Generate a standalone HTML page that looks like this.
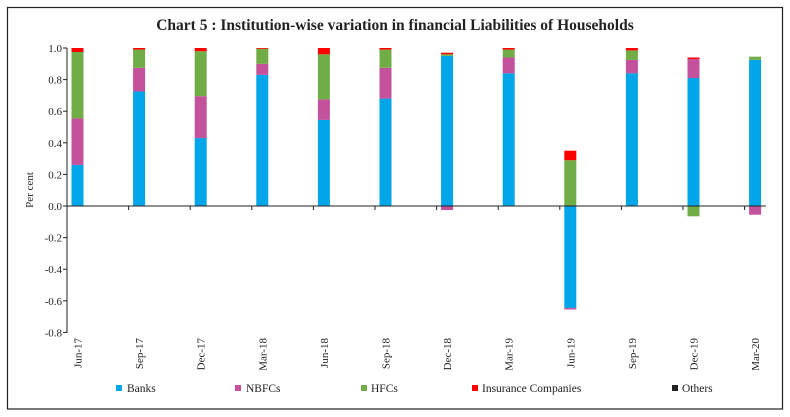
<!DOCTYPE html>
<html><head><meta charset="utf-8"><style>
body{margin:0;background:#fff}
svg{display:block;font-family:"Liberation Serif",serif}
</style></head><body>
<svg width="790" height="417" viewBox="0 0 790 417" xmlns="http://www.w3.org/2000/svg">
<rect x="7.5" y="7.5" width="775" height="401.5" fill="#fff" stroke="#222" stroke-width="1.2"/>
<text x="395" y="30" text-anchor="middle" font-size="15.5" font-weight="bold" fill="#222">Chart 5 : Institution-wise variation in financial Liabilities of Households</text>
<g font-size="11" fill="#222" text-anchor="end">
<text x="62" y="52">1.0</text><text x="62" y="83.6">0.8</text><text x="62" y="115.2">0.6</text><text x="62" y="146.8">0.4</text><text x="62" y="178.4">0.2</text><text x="62" y="210">0.0</text><text x="62" y="241.6">-0.2</text><text x="62" y="273.2">-0.4</text><text x="62" y="304.8">-0.6</text><text x="62" y="336.4">-0.8</text>
</g>
<text transform="translate(33,190) rotate(-90)" font-size="11" text-anchor="middle" fill="#222">Per cent</text>
<g stroke="#222" stroke-width="1">
<line x1="67" y1="48" x2="67" y2="333"/>
<line x1="63" y1="48" x2="67" y2="48"/><line x1="63" y1="79.6" x2="67" y2="79.6"/><line x1="63" y1="111.2" x2="67" y2="111.2"/><line x1="63" y1="142.8" x2="67" y2="142.8"/><line x1="63" y1="174.4" x2="67" y2="174.4"/><line x1="63" y1="206" x2="67" y2="206"/><line x1="63" y1="237.6" x2="67" y2="237.6"/><line x1="63" y1="269.2" x2="67" y2="269.2"/><line x1="63" y1="300.8" x2="67" y2="300.8"/><line x1="63" y1="332.4" x2="67" y2="332.4"/>
</g>
<g>
<rect x="71.5" y="164.9" width="12" height="41.1" fill="#00a6e8"/><rect x="71.5" y="118.3" width="12" height="46.6" fill="#c4519b"/><rect x="71.5" y="52" width="12" height="66.4" fill="#70ad47"/><rect x="71.5" y="48" width="12" height="4" fill="#f00"/>
<rect x="133.1" y="91.5" width="12" height="114.5" fill="#00a6e8"/><rect x="133.1" y="67.8" width="12" height="23.7" fill="#c4519b"/><rect x="133.1" y="49.6" width="12" height="18.2" fill="#70ad47"/><rect x="133.1" y="48" width="12" height="1.6" fill="#f00"/>
<rect x="194.7" y="138.1" width="12" height="67.9" fill="#00a6e8"/><rect x="194.7" y="96.2" width="12" height="41.9" fill="#c4519b"/><rect x="194.7" y="51.2" width="12" height="45" fill="#70ad47"/><rect x="194.7" y="48" width="12" height="3.2" fill="#f00"/>
<rect x="256.3" y="74.9" width="12" height="131.1" fill="#00a6e8"/><rect x="256.3" y="63.8" width="12" height="11.1" fill="#c4519b"/><rect x="256.3" y="48.8" width="12" height="15" fill="#70ad47"/><rect x="256.3" y="48" width="12" height="0.8" fill="#f00"/>
<rect x="317.9" y="119.9" width="12" height="86.1" fill="#00a6e8"/><rect x="317.9" y="99.4" width="12" height="20.5" fill="#c4519b"/><rect x="317.9" y="54.3" width="12" height="45.1" fill="#70ad47"/><rect x="317.9" y="48" width="12" height="6.3" fill="#f00"/>
<rect x="379.5" y="98.6" width="12" height="107.4" fill="#00a6e8"/><rect x="379.5" y="67.8" width="12" height="30.8" fill="#c4519b"/><rect x="379.5" y="49.6" width="12" height="18.2" fill="#70ad47"/><rect x="379.5" y="48" width="12" height="1.6" fill="#f00"/>
<rect x="441.1" y="55.9" width="12" height="150.1" fill="#00a6e8"/><rect x="441.1" y="54.3" width="12" height="1.6" fill="#70ad47"/><rect x="441.1" y="52.7" width="12" height="1.6" fill="#f00"/><rect x="441.1" y="206" width="12" height="4" fill="#c4519b"/>
<rect x="502.7" y="73.3" width="12" height="132.7" fill="#00a6e8"/><rect x="502.7" y="57.5" width="12" height="15.8" fill="#c4519b"/><rect x="502.7" y="49.6" width="12" height="7.9" fill="#70ad47"/><rect x="502.7" y="48" width="12" height="1.6" fill="#f00"/>
<rect x="564.3" y="206" width="12" height="101.9" fill="#00a6e8"/><rect x="564.3" y="307.9" width="12" height="1.6" fill="#c4519b"/><rect x="564.3" y="160.2" width="12" height="45.8" fill="#70ad47"/><rect x="564.3" y="150.7" width="12" height="9.5" fill="#f00"/>
<rect x="625.9" y="73.3" width="12" height="132.7" fill="#00a6e8"/><rect x="625.9" y="59.9" width="12" height="13.4" fill="#c4519b"/><rect x="625.9" y="50.4" width="12" height="9.5" fill="#70ad47"/><rect x="625.9" y="48" width="12" height="2.4" fill="#f00"/>
<rect x="687.5" y="78" width="12" height="128" fill="#00a6e8"/><rect x="687.5" y="59.1" width="12" height="19" fill="#c4519b"/><rect x="687.5" y="57.5" width="12" height="1.6" fill="#f00"/><rect x="687.5" y="206" width="12" height="10.3" fill="#70ad47"/>
<rect x="749.1" y="59.9" width="12" height="146.1" fill="#00a6e8"/><rect x="749.1" y="56.7" width="12" height="3.2" fill="#70ad47"/><rect x="749.1" y="206" width="12" height="8.7" fill="#c4519b"/>
</g>
<g stroke="#222" stroke-width="1">
<line x1="67" y1="206" x2="766" y2="206"/>
<line x1="67" y1="206" x2="67" y2="210"/><line x1="128.6" y1="206" x2="128.6" y2="210"/><line x1="190.2" y1="206" x2="190.2" y2="210"/><line x1="251.8" y1="206" x2="251.8" y2="210"/><line x1="313.4" y1="206" x2="313.4" y2="210"/><line x1="375" y1="206" x2="375" y2="210"/><line x1="436.6" y1="206" x2="436.6" y2="210"/><line x1="498.2" y1="206" x2="498.2" y2="210"/><line x1="559.8" y1="206" x2="559.8" y2="210"/><line x1="621.4" y1="206" x2="621.4" y2="210"/><line x1="683" y1="206" x2="683" y2="210"/><line x1="744.6" y1="206" x2="744.6" y2="210"/>
</g>
<g font-size="11" fill="#222" text-anchor="end">
<text transform="translate(81.5,338) rotate(-90)">Jun-17</text>
<text transform="translate(143.1,338) rotate(-90)">Sep-17</text>
<text transform="translate(204.7,338) rotate(-90)">Dec-17</text>
<text transform="translate(266.3,338) rotate(-90)">Mar-18</text>
<text transform="translate(327.9,338) rotate(-90)">Jun-18</text>
<text transform="translate(389.5,338) rotate(-90)">Sep-18</text>
<text transform="translate(451.1,338) rotate(-90)">Dec-18</text>
<text transform="translate(512.7,338) rotate(-90)">Mar-19</text>
<text transform="translate(574.3,338) rotate(-90)">Jun-19</text>
<text transform="translate(635.9,338) rotate(-90)">Sep-19</text>
<text transform="translate(697.5,338) rotate(-90)">Dec-19</text>
<text transform="translate(759.1,338) rotate(-90)">Mar-20</text>
</g>
<g font-size="11.5" fill="#222">
<rect x="116" y="385" width="6" height="6" fill="#00a6e8"/><text x="127" y="392">Banks</text>
<rect x="235" y="385" width="6" height="6" fill="#c4519b"/><text x="246" y="392">NBFCs</text>
<rect x="361" y="385" width="6" height="6" fill="#70ad47"/><text x="371" y="392">HFCs</text>
<rect x="472" y="385" width="6" height="6" fill="#f00"/><text x="482" y="392">Insurance Companies</text>
<rect x="672" y="385" width="6" height="6" fill="#222"/><text x="682" y="392">Others</text>
</g>
</svg>
</body></html>
